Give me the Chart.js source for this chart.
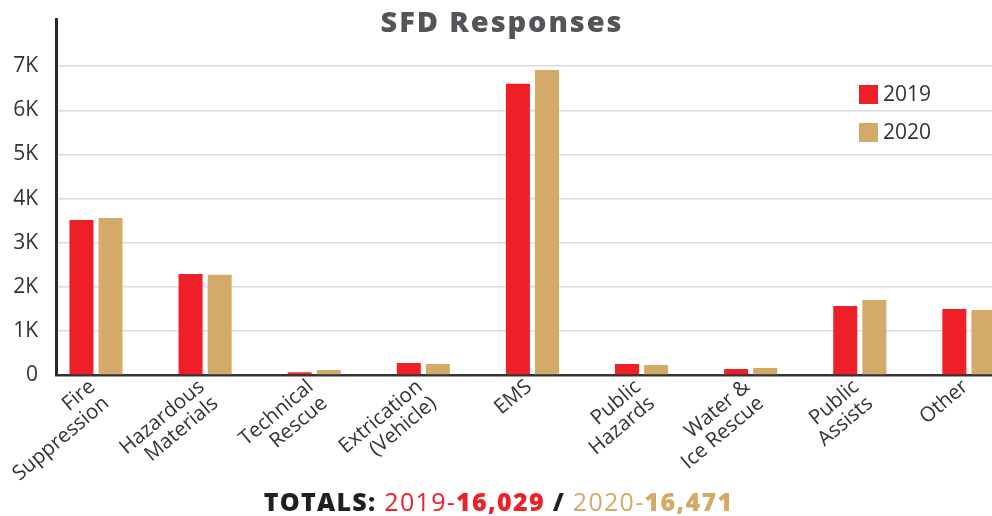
<!DOCTYPE html>
<html lang="en">
<head>
    <meta charset="UTF-8">
    <title>SFD Responses</title>
    <script src="https://cdn.jsdelivr.net/npm/chart.js"></script>
    <style>
        html, body { margin: 0; padding: 0; background: #fff; overflow: hidden; }
        #wrap { position: relative; width: 992px; height: 516px; overflow: hidden; font-family: 'Open Sans', sans-serif; }
        #chart { position: absolute; left: 0; top: 0; }
        #title { position: absolute; left: 0; width: 1004px; top: 1px; text-align: center; font-size: 29px; font-weight: 800; letter-spacing: 1.9px; color: #555559; }
        #legend { position: absolute; left: 859px; top: 80px; font-size: 21px; color: #333; }
        #legend div { height: 38px; line-height: 27px; }
        #legend span.box { display: inline-block; width: 19px; height: 19px; vertical-align: -3px; margin-right: 5px; }
        #totals { position: absolute; left: 0; width: 997px; top: 484px; text-align: center; font-size: 25px; letter-spacing: 1.3px; color: #231f20; white-space: nowrap; }
        #totals b { font-weight: 800; }
    </style>
</head>
<body>
<div id="wrap">
    <canvas id="chart" width="1038" height="516"></canvas>
    <div id="title">SFD Responses</div>
    <div id="legend"></div>
    <div id="totals"></div>
</div>
<script>
    // values
    const categories = [
        ['Fire', 'Suppression'], ['Hazardous', 'Materials'], ['Technical', 'Rescue'],
        ['Extrication', '(Vehicle)'], 'EMS', ['Public', 'Hazards'],
        ['Water &', 'Ice Rescue'], ['Public', 'Assists'], 'Other'
    ];
    const years = ['2019', '2020'];
    const responses2019 = [3515, 2290, 60, 272, 6600, 250, 136, 1565, 1497];
    const responses2020 = [3560, 2270, 113, 250, 6915, 227, 159, 1700, 1474];
    const yTicks = [0, 1000, 2000, 3000, 4000, 5000, 6000, 7000];
    const totals = ['16,029', '16,471'];
    const colors = ['#ee1f27', '#d3aa67'];

    const ctx = document.getElementById('chart').getContext('2d');
    const chart = new Chart(ctx, {
        type: 'bar',
        data: {
            labels: categories,
            datasets: [
                { label: years[0], data: responses2019, backgroundColor: colors[0] },
                { label: years[1], data: responses2020, backgroundColor: colors[1] },
                // empty slot so the pair sits left of the category centre
                { label: '', data: categories.map(() => null) }
            ]
        },
        options: {
            responsive: false,
            animation: false,
            categoryPercentage: 0.8,
            barPercentage: 0.825,
            layout: { padding: { top: 19, left: 0, right: 0, bottom: 0 } },
            plugins: { legend: { display: false }, tooltip: { enabled: false } },
            scales: {
                x: {
                    grid: { display: false, drawTicks: false },
                    border: { color: '#333', width: 2.5 },
                    ticks: {
                        color: '#333',
                        font: { family: 'Open Sans', size: 20.5, lineHeight: 1.05 },
                        minRotation: 40, maxRotation: 40,
                        labelOffset: -18,
                        padding: 1,
                        autoSkip: false
                    },
                    afterFit: s => { s.height = 141; }
                },
                y: {
                    min: 0, max: 8070,
                    grid: { color: '#dcdcdc', lineWidth: 1.5, drawTicks: false },
                    border: { color: '#2b2b2b', width: 3 },
                    ticks: {
                        color: '#333',
                        font: { family: 'Open Sans', size: 21 },
                        padding: 18,
                        callback: v => v === 0 ? '0' : (v / 1000) + 'K'
                    },
                    afterBuildTicks: s => { s.ticks = yTicks.map(v => ({ value: v })); },
                    afterFit: s => { s.width = 56; s.paddingTop = 0; s.paddingBottom = 0; }
                }
            }
        }
    });

    document.getElementById('legend').innerHTML = years.map((y, i) =>
        '<div><span class="box" style="background:' + colors[i] + '"></span>' + y + '</div>').join('');

    document.getElementById('totals').innerHTML =
        '<b>TOTALS:</b> <span style="color:' + colors[0] + '">' + years[0] + '-<b>' + totals[0] + '</b></span>' +
        ' <b>/</b> <span style="color:' + colors[1] + '">' + years[1] + '-<b>' + totals[1] + '</b></span>';
</script>
</body>
</html>
